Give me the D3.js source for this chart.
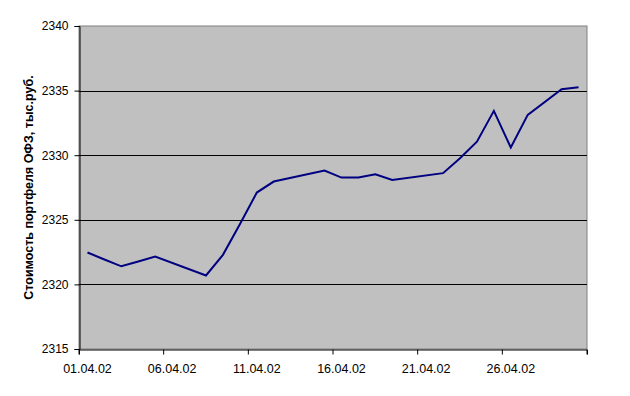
<!DOCTYPE html>
<html>
<head>
<meta charset="utf-8">
<script src="https://cdn.jsdelivr.net/npm/d3@7"></script>
<style>
  body { margin: 0; background: #fff; }
  svg { display: block; font-family: Arial, "Liberation Sans", sans-serif; }
  .tick text { fill: #000; }
</style>
</head>
<body>
<div id="chart"></div>
<script>
// all days of April 2002 form the category axis
const days = d3.range(1, 31).map(d => String(d).padStart(2, "0") + ".04.02");

// trading days only (weekends are missing, 27.04 was a working Saturday)
const tradeDays = [
  "01.04.02", "02.04.02", "03.04.02", "04.04.02", "05.04.02",
  "08.04.02", "09.04.02", "10.04.02", "11.04.02", "12.04.02",
  "15.04.02", "16.04.02", "17.04.02", "18.04.02", "19.04.02",
  "22.04.02", "23.04.02", "24.04.02", "25.04.02", "26.04.02",
  "27.04.02", "29.04.02", "30.04.02"
];
const portfolio = [
  2322.47, 2321.93, 2321.40, 2321.77, 2322.16,
  2320.69, 2322.29, 2324.65, 2327.11, 2327.96,
  2328.81, 2328.27, 2328.27, 2328.53, 2328.09,
  2328.61, 2329.77, 2331.05, 2333.43, 2330.59,
  2333.12, 2335.10, 2335.26
];

const xLabels = ["01.04.02", "06.04.02", "11.04.02", "16.04.02", "21.04.02", "26.04.02"];
const yTicks = [2315, 2320, 2325, 2330, 2335, 2340];
const yTitle = "Стоимость портфеля ОФЗ, тыс.руб.";

const width = 630, height = 396;
const margin = { top: 26, right: 43, bottom: 47, left: 79 };

const svg = d3.select("#chart")
  .append("svg")
  .attr("width", width)
  .attr("height", height);

const x = d3.scaleBand()
  .domain(days)
  .range([margin.left, width - margin.right]);

const y = d3.scaleLinear()
  .domain([2315, 2340])
  .range([height - margin.bottom, margin.top]);

const bw = x.bandwidth();

// plot area
svg.append("rect")
  .attr("x", margin.left)
  .attr("y", margin.top)
  .attr("width", width - margin.left - margin.right)
  .attr("height", height - margin.top - margin.bottom)
  .attr("fill", "#c0c0c0")
  .attr("stroke", "#808080")
  .attr("stroke-width", 1);

// gridlines
svg.append("g")
  .selectAll("line")
  .data(yTicks.slice(1, -1))
  .join("line")
    .attr("x1", margin.left)
    .attr("x2", width - margin.right)
    .attr("y1", d => Math.round(y(d)) + 0.5)
    .attr("y2", d => Math.round(y(d)) + 0.5)
    .attr("stroke", "#000")
    .attr("stroke-width", 1);

// y axis
const yAxis = svg.append("g")
  .attr("transform", `translate(${margin.left + 0.5},0)`)
  .call(d3.axisLeft(y).tickValues(yTicks).tickSize(5).tickPadding(6).tickFormat(d3.format("d")));
yAxis.select(".domain").attr("stroke", "#000");
yAxis.selectAll(".tick text").attr("font-size", 12).attr("font-family", null);

// x axis: labels at category centres, tick marks on category boundaries
const xAxis = svg.append("g")
  .attr("transform", `translate(0,${Math.round(y(2315)) + 0.5})`)
  .call(d3.axisBottom(x).tickValues(xLabels).tickSizeOuter(0).tickSize(5).tickPadding(10));
xAxis.select(".domain").attr("stroke", "#000");
xAxis.selectAll(".tick line")
  .attr("x1", -bw / 2)
  .attr("x2", -bw / 2);
xAxis.selectAll(".tick text").attr("font-size", 12.5).attr("font-family", null);
xAxis.append("line")
  .attr("x1", x.range()[1])
  .attr("x2", x.range()[1])
  .attr("y2", 5)
  .attr("stroke", "#000");

// y title
svg.append("text")
  .attr("transform", `translate(33,${(y(2315) + y(2340)) / 2}) rotate(-90)`)
  .attr("text-anchor", "middle")
  .attr("font-size", 12.5)
  .attr("font-weight", "bold")
  .text(yTitle);

// line
const line = d3.line()
  .x((d, i) => x(tradeDays[i]) + bw / 2)
  .y(d => y(d));

svg.append("path")
  .datum(portfolio)
  .attr("d", line)
  .attr("fill", "none")
  .attr("stroke", "#000080")
  .attr("stroke-width", 2)
  .attr("stroke-linejoin", "miter");
</script>
</body>
</html>
